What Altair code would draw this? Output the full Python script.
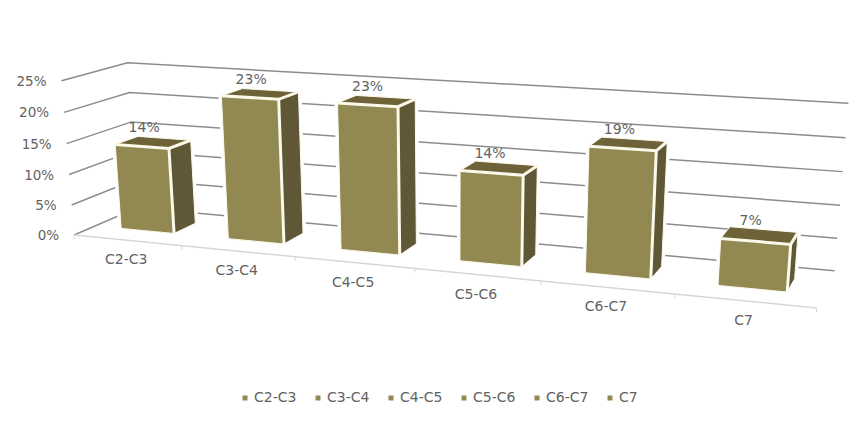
import altair as alt
import numpy as np
import pandas as pd

categories = ["C2-C3", "C3-C4", "C4-C5", "C5-C6", "C6-C7", "C7"]
values = [14, 23, 23, 14, 19, 7]
axis_ticks = [0, 5, 10, 15, 20, 25]

# Picture frame: used to calibrate the 3D view.
left_front_x = [75, 71, 69, 66, 64, 61]
left_front_y = [235, 204, 174, 143, 112, 80]
left_back_x = [136, 135, 133, 132, 130, 128]
left_back_y = [207, 179, 151, 122, 93, 64]
right_back_x = [835, 837, 840, 843, 846, 848]
right_back_y = [270, 238, 205, 172, 138, 103]
front_edge_x = [75, 183, 295, 415, 540, 674, 817]
front_edge_y = [235, 247, 258, 270, 282, 293, 307]

GAP = 0.25
D0, D1 = 0.32, 0.68
FRONT, SIDE, TOP = "#928851", "#5f5735", "#6e6338"
CREAM = "#fbf9ea"
TEXT = "#626262"
FONT = "DejaVu Sans"

# Fit camera
A, b = [], []
def add(U, V, W, x, y):
    A.append([U, V, W, 1, 0, 0, 0, 0, -x * U, -x * V, -x * W]); b.append(x)
    A.append([0, 0, 0, 0, U, V, W, 1, -y * U, -y * V, -y * W]); b.append(y)
for i, t in enumerate(axis_ticks):
    add(0, 0, t / 25, left_front_x[i], left_front_y[i])
    add(0, 1, t / 25, left_back_x[i], left_back_y[i])
    add(6, 1, t / 25, right_back_x[i], right_back_y[i])
for i in range(7):
    add(i, 0, 0, front_edge_x[i], front_edge_y[i])
p = np.linalg.lstsq(np.array(A, float), np.array(b, float), rcond=None)[0]
P = np.append(p, 1).reshape(3, 4)

def proj(u, d, v):
    q = P @ np.array([u, d, v / 25, 1.0])
    return float(q[0] / q[2]), float(q[1] / q[2])

def poly(rows, face, cat, pts):
    for k, (u, d, v) in enumerate(pts):
        x, y = proj(u, d, v)
        rows.append(dict(x=x, y=y, face=face, cat=cat, ord=k))

rows, edges, grid = [], [], []
for t in axis_ticks:
    for k, (u, d) in enumerate([(0, 0), (0, 1), (6, 1)]):
        x, y = proj(u, d, t)
        grid.append(dict(x=x, y=y, g=t, ord=k))

tops = []
for i, (c, v) in enumerate(zip(categories, values)):
    u0, u1 = i + GAP, i + 1 - GAP
    poly(rows, "front", c, [(u0, D0, 0), (u1, D0, 0), (u1, D0, v), (u0, D0, v), (u0, D0, 0)])
    poly(rows, "side", c, [(u1, D0, 0), (u1, D1, 0), (u1, D1, v), (u1, D0, v), (u1, D0, 0)])
    poly(rows, "top", c, [(u0, D0, v), (u1, D0, v), (u1, D1, v), (u0, D1, v), (u0, D0, v)])
    poly(edges, "a", c, [(u0, D0, v), (u1, D0, v), (u1, D1, v)])
    poly(edges, "b", c, [(u1, D0, v), (u1, D0, 0)])
    x, y = proj((u0 + u1) / 2, (D0 + D1) / 2, v)
    tops.append(dict(x=x, y=y, label=f"{v}%"))

df = pd.DataFrame(rows)
edf = pd.DataFrame(edges)
gdf = pd.DataFrame(grid)
tdf = pd.DataFrame(tops)

X = alt.X("x:Q", scale=alt.Scale(domain=[8, 858], range=[0, 850]), axis=None)
Y = alt.Y("y:Q", scale=alt.Scale(domain=[414, 8], range=[406, 0]), axis=None)

gridlines = alt.Chart(gdf).mark_line(stroke="#8c8c8c", strokeWidth=1.5).encode(
    x=X, y=Y, detail="g:N", order="ord:Q")

fl = [proj(0, 0, 0), proj(6, 0, 0)]
floor = alt.Chart(pd.DataFrame(dict(x=[fl[0][0], fl[1][0]], y=[fl[0][1], fl[1][1]]))).mark_line(
    stroke="#d3d7db", strokeWidth=1.5).encode(x=X, y=Y)

tick_rows = []
for i in range(7):
    x, y = proj(i, 0, 0)
    tick_rows.append(dict(x=x, y=y, y2=y + 4))
ticks = alt.Chart(pd.DataFrame(tick_rows)).mark_rule(stroke="#d3d7db", strokeWidth=1).encode(
    x=X, y=Y, y2="y2:Q")

halo = alt.Chart(df[df.face != "top"]).mark_line(
    filled=True, fill="#ffffff", stroke="#ffffff", strokeWidth=6).encode(
    x=X, y=Y, detail=["cat:N", "face:N"], order="ord:Q")

front = alt.Chart(df[df.face == "front"]).mark_line(
    filled=True, stroke=CREAM, strokeWidth=1).encode(
    x=X, y=Y, order="ord:Q", detail="cat:N",
    fill=alt.Fill("cat:N",
        scale=alt.Scale(domain=categories, range=[FRONT] * 6),
        legend=alt.Legend(title=None, orient="none", legendX=230, legendY=383,
                          direction="horizontal", columns=6, symbolType="square",
                          symbolSize=25, symbolStrokeWidth=0, labelFont=FONT, labelFontSize=14,
                          labelColor=TEXT, columnPadding=14, labelOffset=2, gridAlign="all")))
side = alt.Chart(df[df.face == "side"]).mark_line(
    filled=True, fill=SIDE, stroke=CREAM, strokeWidth=1).encode(
    x=X, y=Y, order="ord:Q", detail="cat:N")
top = alt.Chart(df[df.face == "top"]).mark_line(
    filled=True, fill=TOP, stroke=CREAM, strokeWidth=1).encode(
    x=X, y=Y, order="ord:Q", detail="cat:N")
edge = alt.Chart(edf).mark_line(stroke=CREAM, strokeWidth=3).encode(
    x=X, y=Y, order="ord:Q", detail=["cat:N", "face:N"])

bar_labels = alt.Chart(tdf).mark_text(font=FONT, fontSize=14, color=TEXT, dx=-9, dy=-14).encode(
    x=X, y=Y, text="label:N")

yl = []
for t in axis_ticks:
    x, y = proj(0, 0, t)
    yl.append(dict(x=x, y=y, label=f"{t}%"))
y_labels = alt.Chart(pd.DataFrame(yl)).mark_text(
    font=FONT, fontSize=13.5, color=TEXT, align="right", dx=-15, dy=1).encode(
    x=X, y=Y, text="label:N")

xl = []
for i, c in enumerate(categories):
    x, y = proj(i + 0.5, 0, 0)
    xl.append(dict(x=x, y=y, label=c))
x_labels = alt.Chart(pd.DataFrame(xl)).mark_text(
    font=FONT, fontSize=14, color=TEXT, dx=-1, dy=20).encode(
    x=X, y=Y, text="label:N")

chart = alt.layer(
    gridlines, floor, ticks, halo, front, side, top, edge, bar_labels, y_labels, x_labels
).properties(
    width=850, height=406, padding=0, autosize=alt.AutoSizeParams(type="none"),
    background="#ffffff"
).configure_view(stroke=None)

chart.save("out.html", embed_options={"renderer": "svg", "actions": False})
